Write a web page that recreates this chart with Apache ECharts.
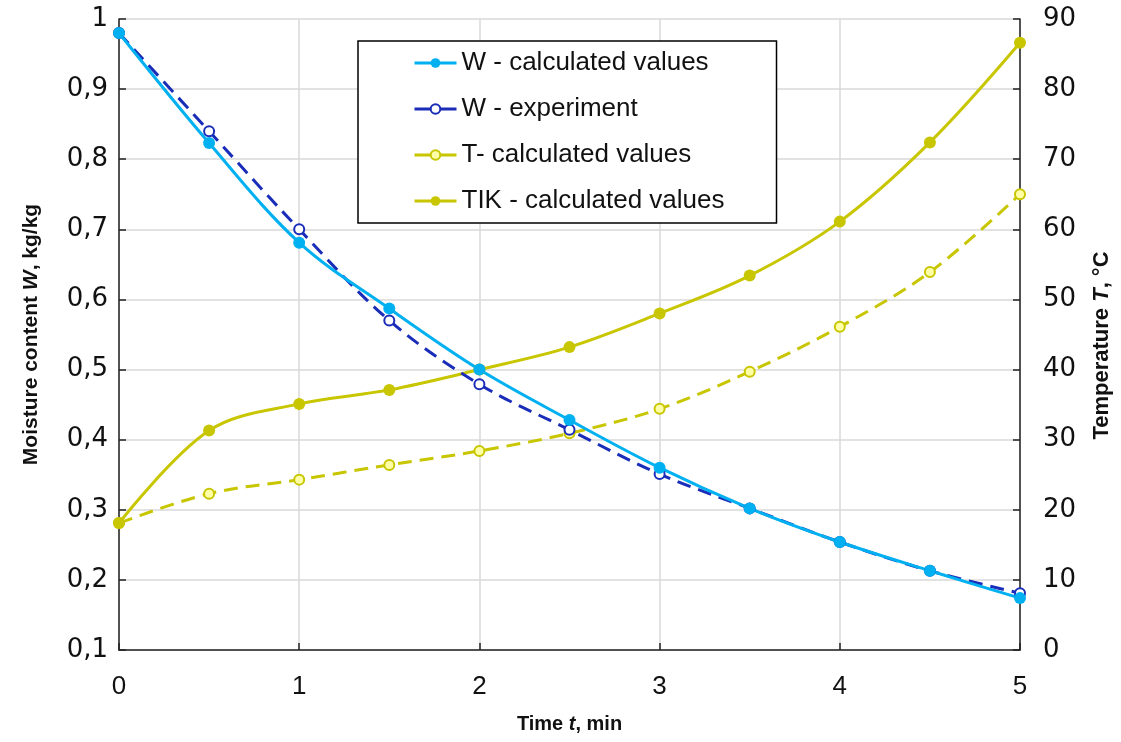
<!DOCTYPE html>
<head>
    <meta charset="utf-8">
    <title>Moisture content and temperature vs time</title>
    <script src="https://cdn.jsdelivr.net/npm/echarts@6/dist/echarts.min.js"></script>
</head>
<body style="margin:0;background:#fff">
<div id="main" style="width:1121px;height:742px"></div>
<script type="text/javascript">
// time, min
var time = [0, 0.5, 1, 1.5, 2, 2.5, 3, 3.5, 4, 4.5, 5];
// moisture content, kg/kg (left axis)
var wCalc = [0.98, 0.823, 0.681, 0.587, 0.500, 0.428, 0.360, 0.302, 0.254, 0.213, 0.174];
var wExp  = [0.98, 0.840, 0.700, 0.570, 0.479, 0.414, 0.351, 0.302, 0.254, 0.213, 0.181];
// temperature, °C (right axis)
var tCalc   = [18.1, 22.3, 24.3, 26.4, 28.4, 30.9, 34.4, 39.7, 46.1, 53.9, 65.0];
var tikCalc = [18.1, 31.3, 35.1, 37.1, 40.0, 43.2, 48.0, 53.4, 61.1, 72.4, 86.6];

var cyan = '#00B0F0', navy = '#1A2DB8', olive = '#C8C600';

function pairs(ys) {
    var out = [];
    for (var i = 0; i < time.length; i++) out.push([time[i], ys[i]]);
    return out;
}

var myChart = echarts.init(document.getElementById('main'));
var titleFont = 'Liberation Sans';
function titleRich(size) {
    return {
        b: { fontFamily: titleFont, fontWeight: 'bold', fontSize: size, color: '#111' },
        i: { fontFamily: titleFont, fontWeight: 'bold', fontStyle: 'italic', fontSize: size, color: '#111' }
    };
}
var option = {
    animation: false,
    grid: { left: 119, right: 100, top: 19, bottom: 92 },
    legend: {
        orient: 'vertical',
        left: 358, top: 41,
        padding: [9, 52, 9, 55],
        backgroundColor: '#fff',
        borderColor: '#000', borderWidth: 1.5,
        itemWidth: 42, itemHeight: 12, itemGap: 20,
        lineStyle: { type: 'solid', width: 3 },
        textStyle: { fontFamily: 'Liberation Sans', fontSize: 26, color: '#111', lineHeight: 26 },
        data: ['W - calculated values', 'W - experiment', 'T- calculated values', 'TIK - calculated values']
    },
    xAxis: {
        type: 'value', min: 0, max: 5, interval: 1,
        name: '{b|Time }{i|t}{b|, min}',
        nameLocation: 'middle', nameGap: 64,
        nameTextStyle: { rich: titleRich(20) },
        axisLine: { lineStyle: { color: '#222', width: 1.5 } },
        axisTick: { inside: true, length: 7, lineStyle: { color: '#222', width: 1.5 } },
        axisLabel: { fontFamily: 'Liberation Sans', fontSize: 26, color: '#111', margin: 24 },
        splitLine: { show: true, lineStyle: { color: '#D9D9D9', width: 1.5 } }
    },
    yAxis: [{
        type: 'value', min: 0.1, max: 1, interval: 0.1, position: 'left',
        name: '{b|Moisture content }{i|W}{b|, kg/kg}',
        nameLocation: 'middle', nameGap: 77, nameRotate: 90,
        nameTextStyle: { rich: titleRich(21) },
        axisLine: { show: true, lineStyle: { color: '#222', width: 1.5 } },
        axisTick: { show: true, inside: true, length: 7, lineStyle: { color: '#222', width: 1.5 } },
        axisLabel: {
            fontFamily: 'DejaVu Sans', fontSize: 26, color: '#111', margin: 11,
            formatter: function (v) { return String(Math.round(v * 10) / 10).replace('.', ','); }
        },
        splitLine: { show: true, lineStyle: { color: '#D9D9D9', width: 1.5 } }
    }, {
        type: 'value', min: 0, max: 90, interval: 10, position: 'right',
        name: '{b|Temperature }{i|T}{b|, °C}',
        nameLocation: 'middle', nameGap: 71, nameRotate: 90,
        nameTextStyle: { rich: titleRich(22), padding: [0, 22, 0, 0] },
        axisLine: { show: true, lineStyle: { color: '#222', width: 1.5 } },
        axisTick: { show: true, inside: true, length: 7, lineStyle: { color: '#222', width: 1.5 } },
        axisLabel: { fontFamily: 'DejaVu Sans', fontSize: 26, color: '#111', margin: 23 },
        splitLine: { show: false }
    }],
    series: [{
        name: 'T- calculated values', type: 'line', yAxisIndex: 1, smooth: 0.35,
        data: pairs(tCalc),
        symbol: 'circle', symbolSize: 10,
        lineStyle: { color: olive, width: 3, type: [14, 8] },
        itemStyle: { color: '#FFFFA8', borderColor: olive, borderWidth: 2 }
    }, {
        name: 'TIK - calculated values', type: 'line', yAxisIndex: 1, smooth: 0.35,
        data: pairs(tikCalc),
        symbol: 'circle', symbolSize: 12,
        lineStyle: { color: olive, width: 3 },
        itemStyle: { color: olive }
    }, {
        name: 'W - experiment', type: 'line', yAxisIndex: 0, smooth: 0.35,
        data: pairs(wExp),
        symbol: 'circle', symbolSize: 10,
        lineStyle: { color: navy, width: 3, type: [14, 8] },
        itemStyle: { color: '#fff', borderColor: navy, borderWidth: 2 }
    }, {
        name: 'W - calculated values', type: 'line', yAxisIndex: 0, smooth: 0.35,
        data: pairs(wCalc),
        symbol: 'circle', symbolSize: 12,
        lineStyle: { color: cyan, width: 3 },
        itemStyle: { color: cyan }
    }]
};
myChart.setOption(option);
</script>
</body>
